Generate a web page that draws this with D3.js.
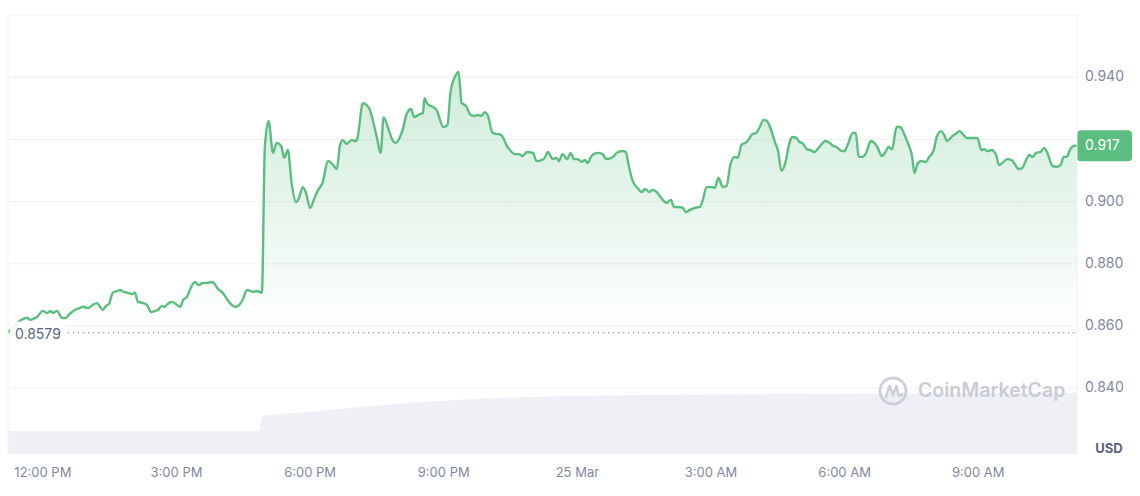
<!DOCTYPE html>
<html><head><meta charset="utf-8">
<script src="https://cdn.jsdelivr.net/npm/d3@7"></script>
<style>
body{margin:0;background:#fff;}
svg{display:block;font-family:Inter,"Noto Sans",sans-serif;}
</style>
</head><body>
<svg id="c" width="1140" height="496"></svg>
<script>
// ---- data ----
const startTime = new Date(2024, 2, 24, 11, 13);
const windowMinutes = 1440;
// [minutes since start, price USD]
const priceSeries = [
[0,0.8579],[26,0.8626],[30,0.8620],[34,0.8623],[39,0.8629],[47,0.8649],[53,0.8642],[57,0.8649],[61,0.8642],[66,0.8649],
[73,0.8626],[77,0.8626],[83,0.8639],[90,0.8652],[97,0.8658],[101,0.8662],[108,0.8658],[114,0.8668],[120,0.8674],[123,0.8665],
[128,0.8652],[132,0.8665],[136,0.8671],[141,0.8707],[147,0.8713],[151,0.8716],[156,0.8710],[162,0.8707],[167,0.8703],[171,0.8707],
[175,0.8678],[182,0.8674],[187,0.8668],[193,0.8645],[198,0.8649],[202,0.8652],[207,0.8665],[211,0.8662],[215,0.8671],[221,0.8678],
[226,0.8671],[232,0.8662],[236,0.8684],[241,0.8694],[248,0.8732],[252,0.8742],[257,0.8732],[263,0.8739],[268,0.8739],[275,0.8742],
[277,0.8739],[283,0.8719],[288,0.8710],[293,0.8694],[299,0.8674],[306,0.8662],[310,0.8665],[316,0.8684],[322,0.8716],[327,0.8713],
[331,0.8710],[335,0.8713],[342,0.8707],
[346,0.9176],[351,0.9260],[357,0.9157],[362,0.9189],[368,0.9179],[372,0.9141],[377,0.9166],[382,0.9060],[388,0.8999],[392,0.9012],
[397,0.9047],[401,0.9031],[407,0.8980],[412,0.9006],[417,0.9034],[424,0.9063],[431,0.9131],[438,0.9118],[443,0.9105],[447,0.9179],
[451,0.9198],[456,0.9186],[463,0.9198],[469,0.9195],[471,0.9208],[478,0.9317],[483,0.9311],[487,0.9298],[491,0.9266],[497,0.9205],
[502,0.9157],[506,0.9272],[512,0.9237],[518,0.9198],[522,0.9189],[528,0.9208],[532,0.9234],[537,0.9282],[543,0.9298],[547,0.9272],
[555,0.9282],[559,0.9285],[561,0.9333],[565,0.9314],[572,0.9305],[578,0.9292],[582,0.9263],[586,0.9240],[592,0.9247],[596,0.9350],
[602,0.9401],[607,0.9417],[611,0.9317],[617,0.9308],[623,0.9279],[629,0.9276],[633,0.9279],[638,0.9276],[642,0.9288],[646,0.9279],
[653,0.9221],[658,0.9218],[664,0.9215],[673,0.9176],[683,0.9153],[688,0.9153],[693,0.9147],[699,0.9160],[707,0.9157],[712,0.9131],
[719,0.9134],[723,0.9141],[727,0.9160],[734,0.9137],[739,0.9141],[742,0.9131],[747,0.9153],[753,0.9137],[758,0.9157],[762,0.9137],
[767,0.9137],[773,0.9128],[777,0.9134],[781,0.9124],[786,0.9147],[794,0.9157],[801,0.9153],[806,0.9137],[815,0.9144],[820,0.9157],
[827,0.9163],[832,0.9160],[836,0.9118],[841,0.9070],[848,0.9044],[854,0.9031],[858,0.9041],[864,0.9031],[868,0.9038],[874,0.9031],
[880,0.9012],[887,0.8996],[893,0.9006],[897,0.8983],[903,0.8983],[909,0.8980],[913,0.8967],[918,0.8973],[925,0.8980],[932,0.8983],
[936,0.9006],[941,0.9047],[949,0.9047],[952,0.9044],[957,0.9076],[963,0.9047],[968,0.9051],[973,0.9118],[979,0.9144],[983,0.9141],
[988,0.9182],[995,0.9192],[999,0.9205],[1003,0.9218],[1008,0.9221],[1012,0.9237],[1018,0.9263],[1022,0.9260],[1027,0.9237],[1033,0.9192],
[1037,0.9166],[1042,0.9099],[1047,0.9124],[1053,0.9192],[1057,0.9208],[1062,0.9205],[1066,0.9192],[1070,0.9189],[1076,0.9169],[1081,0.9166],
[1086,0.9160],[1093,0.9176],[1101,0.9195],[1107,0.9189],[1112,0.9179],[1116,0.9176],[1123,0.9163],[1127,0.9163],[1131,0.9182],[1138,0.9221],
[1142,0.9221],[1146,0.9144],[1151,0.9144],[1156,0.9157],[1162,0.9195],[1167,0.9189],[1171,0.9176],[1177,0.9147],[1182,0.9160],[1186,0.9176],
[1191,0.9169],[1197,0.9240],[1202,0.9240],[1206,0.9224],[1212,0.9189],[1218,0.9144],[1221,0.9092],[1225,0.9121],[1230,0.9131],[1236,0.9128],
[1241,0.9144],[1247,0.9166],[1251,0.9208],[1257,0.9227],[1261,0.9215],[1265,0.9195],[1272,0.9211],[1278,0.9221],[1282,0.9227],[1287,0.9215],
[1292,0.9205],[1299,0.9205],[1306,0.9205],[1311,0.9166],[1315,0.9169],[1319,0.9163],[1325,0.9166],[1331,0.9150],[1335,0.9118],[1341,0.9128],
[1346,0.9137],[1352,0.9134],[1357,0.9118],[1361,0.9105],[1366,0.9108],[1372,0.9137],[1376,0.9150],[1380,0.9144],[1385,0.9157],[1391,0.9160],
[1396,0.9173],[1400,0.9157],[1407,0.9115],[1412,0.9112],[1418,0.9118],[1422,0.9144],[1426,0.9144],[1431,0.9169],[1436,0.9180],[1440,0.9180]
];
// [minutes since start, 24h volume (millions, relative)]
const volumeSeries = [
[0,1.50],[200,1.51],[339,1.52],[341,2.20],[344,2.52],[360,2.60],[400,2.74],[480,3.12],[560,3.42],[650,3.66],[760,3.82],[900,3.88],[1100,3.95],[1300,4.00],[1440,4.03]
];
// tick values; the 0.920 label is hidden behind the last-price tag in the reference
const yTicks = [0.84, 0.86, 0.88, 0.90, 0.92, 0.94, 0.96];
const yTickLabels = ["0.840","0.860","0.880","0.900","","0.940",""];
const openPrice = 0.8579, openLabel = "0.8579";
const lastLabel = "0.917";
const unitLabel = "USD";
const watermark = "CoinMarketCap";

// ---- drawing ----
const svg = d3.select("#c");
const L = 8, R = 1077, TOP = 15.1, BOT = 454;
const t = m => new Date(startTime.getTime() + m * 60000);
const endTime = t(windowMinutes);
const x = d3.scaleTime().domain([startTime, endTime]).range([L, R]);
const y = d3.scaleLinear().domain([0.84, 0.96]).range([388.3, TOP]);
const yv = d3.scaleLinear().domain([0, 5]).range([BOT, 378]);
const green = "#5cbd80";
const grid = "#eff1f4";

const defs = svg.append("defs");
const grad = defs.append("linearGradient").attr("id","g").attr("gradientUnits","userSpaceOnUse")
  .attr("x1",0).attr("x2",0).attr("y1",70).attr("y2",y(openPrice));
grad.append("stop").attr("offset",0).attr("stop-color",green).attr("stop-opacity",0.3);
grad.append("stop").attr("offset",1).attr("stop-color",green).attr("stop-opacity",0.0);

// gridlines
svg.append("g").selectAll("line").data(yTicks).join("line")
  .attr("x1",L).attr("x2",R).attr("y1",d=>y(d)).attr("y2",d=>y(d))
  .attr("stroke",grid).attr("stroke-width",1);

// volume area
svg.append("path").datum(volumeSeries)
  .attr("d", d3.area().curve(d3.curveMonotoneX).x(d=>x(t(d[0]))).y0(BOT).y1(d=>yv(d[1])))
  .attr("fill","#eef0f5");

// watermark
const wm = svg.append("g").attr("transform","translate(893,391)").attr("opacity",0.9);
wm.append("circle").attr("r",13).attr("fill","none").attr("stroke","#c9ccd3").attr("stroke-width",2.8);
wm.append("path").attr("d","M-7,6 L-3.5,-5 L0,4 L3.5,-5 L5,3 Q6.5,7 9,3")
  .attr("fill","none").attr("stroke","#c9ccd3").attr("stroke-width",2.6).attr("stroke-linejoin","round").attr("stroke-linecap","round");
svg.append("text").attr("x",918).attr("y",392).attr("dominant-baseline","middle")
  .attr("font-size",19.5).attr("font-weight",600).attr("fill","#c9ccd3").text(watermark);

// price area
svg.append("path").datum(priceSeries)
  .attr("d", d3.area().curve(d3.curveMonotoneX).x(d=>x(t(d[0]))).y0(y(openPrice)).y1(d=>y(d[1])))
  .attr("fill","url(#g)");

// open baseline dotted
svg.append("line").attr("x1",L).attr("x2",R).attr("y1",y(openPrice)).attr("y2",y(openPrice))
  .attr("stroke","#8f96a3").attr("stroke-width",1.2).attr("stroke-dasharray","1.2,3.8");

// price line
svg.append("path").datum(priceSeries)
  .attr("d", d3.line().curve(d3.curveMonotoneX).x(d=>x(t(d[0]))).y(d=>y(d[1])))
  .attr("fill","none").attr("stroke",green).attr("stroke-width",2.4).attr("stroke-linejoin","round");

// open label
svg.append("rect").attr("x",10).attr("y",y(openPrice)-11).attr("width",56).attr("height",23)
  .attr("fill","#fff").attr("opacity",0.88);
svg.append("text").attr("x",15).attr("y",y(openPrice)+3).attr("dominant-baseline","middle")
  .attr("font-size",14).attr("fill","#58667e").text(openLabel);

// y labels
svg.append("g").selectAll("text").data(yTicks.filter((d,i)=>yTickLabels[i])).join("text")
  .attr("x",1085).attr("y",d=>y(d)).attr("dominant-baseline","middle")
  .attr("font-size",14).attr("fill","#808a9d").text(d=>yTickLabels[yTicks.indexOf(d)]);

// last price box
const last = priceSeries[priceSeries.length-1];
const ly = y(last[1]);
svg.append("rect").attr("x",R).attr("y",ly-15.5).attr("width",55).attr("height",31).attr("rx",4).attr("fill",green);
svg.append("text").attr("x",1085).attr("y",ly).attr("dominant-baseline","middle")
  .attr("font-size",14).attr("fill","#fff").text(lastLabel);

// x axis labels
const ticks = d3.timeHour.every(3).range(startTime, endTime);
const fmt = d => d.getHours() === 0 ? d3.timeFormat("%-d %b")(d) : d3.timeFormat("%-I:%M %p")(d);
svg.append("g").selectAll("text").data(ticks).join("text")
  .attr("x",d=>x(d)).attr("y",473).attr("text-anchor","middle").attr("dominant-baseline","middle")
  .attr("font-size",13).attr("fill","#808a9d").text(fmt);

// unit
svg.append("text").attr("x",1109).attr("y",449).attr("text-anchor","middle").attr("dominant-baseline","middle")
  .attr("font-size",13).attr("font-weight",700).attr("fill","#58667e").text(unitLabel);

// borders
svg.append("line").attr("x1",L).attr("x2",L).attr("y1",TOP).attr("y2",BOT).attr("stroke",grid);
svg.append("line").attr("x1",R).attr("x2",R).attr("y1",TOP).attr("y2",BOT).attr("stroke",grid);
</script>
</body></html>
